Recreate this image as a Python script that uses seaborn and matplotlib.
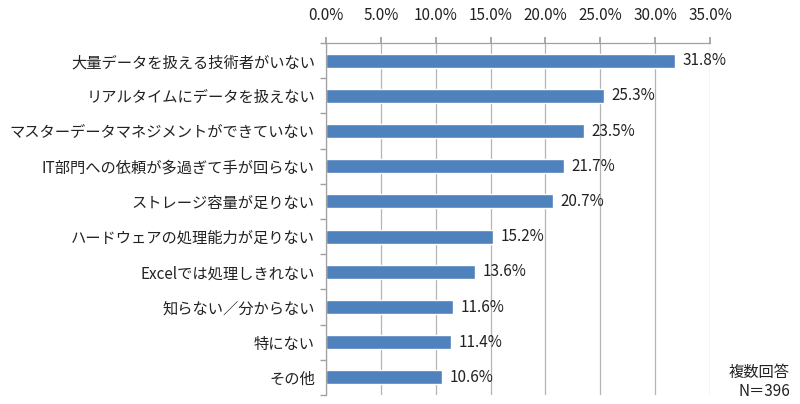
import matplotlib
matplotlib.use("Agg")
import matplotlib.pyplot as plt
import seaborn as sns
import pandas as pd
import numpy as np
from matplotlib.ticker import FixedLocator

categories = ["大量データを扱える技術者がいない", "リアルタイムにデータを扱えない",
              "マスターデータマネジメントができていない", "IT部門への依頼が多過ぎて手が回らない",
              "ストレージ容量が足りない", "ハードウェアの処理能力が足りない",
              "Excelでは処理しきれない", "知らない／分からない", "特にない", "その他"]
values = [31.8, 25.3, 23.5, 21.7, 20.7, 15.2, 13.6, 11.6, 11.4, 10.6]
xticks = [0, 5, 10, 15, 20, 25, 30, 35]
xtick_labels = ["0.0%", "5.0%", "10.0%", "15.0%", "20.0%", "25.0%", "30.0%", "35.0%"]

sns.set_theme(style="white")
plt.rcParams['font.family'] = ['Noto Sans CJK JP', 'DejaVu Sans']

FS = 11
df = pd.DataFrame({"cat": categories, "val": values})
fig = plt.figure(figsize=(8, 4.04), dpi=100)
ax = fig.add_axes([326/800, 9/404, (710-326)/800, (395-43)/404])

sns.barplot(data=df, x="val", y="cat", color="#4F81BD", width=0.4, saturation=1, ax=ax, orient="h")
ax.set_xlim(0, 35)
ax.set_ylim(len(categories) - 0.5, -0.5)
ax.set_xlabel("")
ax.set_ylabel("")
ax.xaxis.tick_top()
ax.set_xticks(xticks)
ax.set_xticklabels(xtick_labels, fontsize=FS, color="#222222")
ax.tick_params(axis="x", length=4, color="#A0A0A0", pad=10)
ax.tick_params(axis="y", length=0, labelsize=FS, labelcolor="#222222", pad=8)
ax.yaxis.set_minor_locator(FixedLocator(np.arange(-0.5, len(categories), 1.0)))
ax.tick_params(axis="y", which="minor", left=True, length=4, color="#A0A0A0")
ax.grid(axis="x", color="#B4B4B4", linewidth=0.9)
ax.set_axisbelow(True)
for s in ["right", "bottom"]:
    ax.spines[s].set_visible(False)
for s in ["top", "left"]:
    ax.spines[s].set_color("#A0A0A0")
    ax.spines[s].set_linewidth(0.9)

for i, v in enumerate(values):
    ax.text(v + 0.7, i, f"{v:.1f}%", va="center", ha="left", fontsize=FS, color="#222222")

fig.text(790/800, 1 - 372/404, "複数回答", ha="right", va="center", fontsize=FS, color="#222222")
fig.text(790/800, 1 - 391/404, "N＝396", ha="right", va="center", fontsize=FS, color="#222222")

fig.savefig("out.png", dpi=100)
